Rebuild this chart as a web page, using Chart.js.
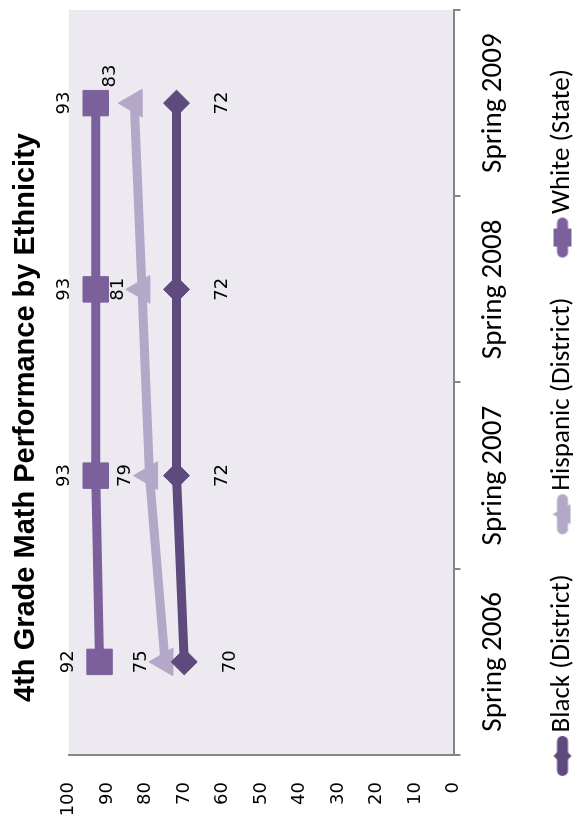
<!DOCTYPE html>
<html><head><meta charset="utf-8">
<script src="https://cdn.jsdelivr.net/npm/chart.js@4.4.1/dist/chart.umd.min.js"></script>
<style>
html,body{margin:0;padding:0;background:#fff;overflow:hidden;width:577px;height:825px;}
#wrap{position:absolute;left:0;top:0;width:825px;height:577px;transform-origin:0 0;transform:translate(0px,825px) rotate(-90deg);}
canvas{display:block;}
</style></head><body>
<div id="wrap"><canvas id="c" width="825" height="577"></canvas></div>
<script>
// ---- data ----
const categories = ['Spring 2006', 'Spring 2007', 'Spring 2008', 'Spring 2009'];
const blackDistrict = [70, 72, 72, 72];
const hispanicDistrict = [75, 79, 81, 83];
const whiteState = [92, 93, 93, 93];
const seriesNames = ['Black (District)', 'Hispanic (District)', 'White (State)'];
const valueAxis = { min: 0, max: 100, step: 10 };
const chartTitle = '4th Grade Math Performance by Ethnicity';

// ---- styles ----
const colBlack = '#5E4A7C', colHisp = '#B3A8C7', colWhite = '#7C609C';
const axisGray = '#868686', plotBg = '#ECEAF0';
const catFont = 'Carlito, Calibri, Lato, sans-serif';

function makeIcon(color, style) {
  // legend swatch: thick line with the series marker, 40px long
  const c = document.createElement('canvas');
  c.width = 60; c.height = 24;
  const g = c.getContext('2d');
  g.strokeStyle = color; g.lineWidth = 11; g.lineCap = 'round';
  g.beginPath(); g.moveTo(20.5, 12); g.lineTo(49.5, 12); g.stroke();
  g.fillStyle = color; g.beginPath();
  const cx = 35;
  if (style === 'rectRot') { g.moveTo(cx, 3); g.lineTo(cx + 9, 12); g.lineTo(cx, 21); g.lineTo(cx - 9, 12); }
  else if (style === 'triangle') { g.moveTo(cx, 2); g.lineTo(cx + 10, 20); g.lineTo(cx - 10, 20); }
  else { g.rect(cx - 9, 3, 18, 18); }
  g.closePath(); g.fill();
  return c;
}

const bgPlugin = {
  id: 'bg',
  beforeDraw(chart) {
    const { ctx, chartArea: a } = chart;
    ctx.save();
    ctx.fillStyle = '#fff'; ctx.fillRect(0, 0, chart.width, chart.height);
    ctx.fillStyle = plotBg; ctx.fillRect(a.left, a.top, a.right - a.left, a.bottom - a.top);
    ctx.restore();
  }
};
const layoutTweak = {
  id: 'layoutTweak',
  afterLayout(chart) {
    const l = chart.legend;
    l.top += 9; l.bottom += 9; l.left -= 5; l.right -= 5;
    chart.scales.x.bottom = 540; // keep category labels from being clipped
  }
};
const valueLabels = {
  id: 'vals',
  afterDatasetsDraw(chart) {
    const ctx = chart.ctx;
    ctx.save();
    ctx.font = '18px "DejaVu Sans"';
    ctx.fillStyle = '#000'; ctx.textAlign = 'center'; ctx.textBaseline = 'middle';
    chart.data.datasets.forEach((ds, i) => {
      chart.getDatasetMeta(i).data.forEach((pt, j) => {
        const dx = (ds.labelNudge && ds.labelNudge[j]) || 0;
        ctx.fillText(String(ds.data[j]), pt.x + dx, pt.y + ds.labelOffset);
      });
    });
    ctx.restore();
  }
};

const datasets = [
  { label: seriesNames[0], data: blackDistrict, borderColor: colBlack, backgroundColor: colBlack,
    pointStyle: 'rectRot', pointRadius: 13, labelOffset: 46, icon: makeIcon(colBlack, 'rectRot') },
  { label: seriesNames[1], data: hispanicDistrict, borderColor: colHisp, backgroundColor: colHisp,
    pointStyle: 'triangle', pointRadius: 16, labelOffset: -24, labelNudge: { 3: 27 }, icon: makeIcon(colHisp, 'triangle') },
  { label: seriesNames[2], data: whiteState, borderColor: colWhite, backgroundColor: colWhite,
    pointStyle: 'rect', pointRadius: 18, labelOffset: -31, icon: makeIcon(colWhite, 'rect') }
].map(d => Object.assign({ borderWidth: 9, pointBorderWidth: 1, pointBorderColor: d.borderColor,
  pointBackgroundColor: d.backgroundColor, tension: 0, fill: false }, d));

new Chart(document.getElementById('c'), {
  type: 'line',
  data: { labels: categories, datasets },
  options: {
    responsive: false, animation: false, devicePixelRatio: 1,
    layout: { autoPadding: false, padding: { left: 0, right: 10, top: 0, bottom: 0 } },
    plugins: {
      tooltip: { enabled: false },
      title: { display: true, text: chartTitle, color: '#000',
        font: { family: '"Liberation Sans", Arial, sans-serif', size: 29, weight: 'bold' },
        padding: { top: 9, bottom: 25 } },
      legend: { position: 'bottom',
        labels: { usePointStyle: true, pointStyleWidth: 30, padding: 40, color: '#000',
          font: { family: catFont, size: 27 },
          generateLabels(chart) {
            return chart.data.datasets.map((ds, i) => ({ text: ds.label, pointStyle: ds.icon,
              fillStyle: ds.borderColor, strokeStyle: ds.borderColor, lineWidth: 0,
              hidden: false, datasetIndex: i, fontColor: '#000' }));
          } } }
    },
    scales: {
      x: { type: 'category', offset: true,
        grid: { offset: true, drawOnChartArea: false, drawTicks: true, tickLength: 7, color: axisGray, lineWidth: 2 },
        border: { display: true, color: axisGray, width: 2 },
        ticks: { color: '#000', padding: 16, maxRotation: 0, autoSkip: false, font: { family: catFont, size: 29 } },
        afterFit(s) { s.height = 46.5; s.paddingLeft = 0; s.paddingRight = 0; } },
      y: { min: valueAxis.min, max: valueAxis.max,
        ticks: { stepSize: valueAxis.step, color: '#000', padding: 27, font: { family: '"DejaVu Sans", sans-serif', size: 18 } },
        grid: { display: false, drawTicks: false },
        border: { display: true, color: axisGray, width: 2 },
        afterFit(s) { s.width = 70; } }
    }
  },
  plugins: [bgPlugin, layoutTweak, valueLabels]
});
</script>
</body></html>
